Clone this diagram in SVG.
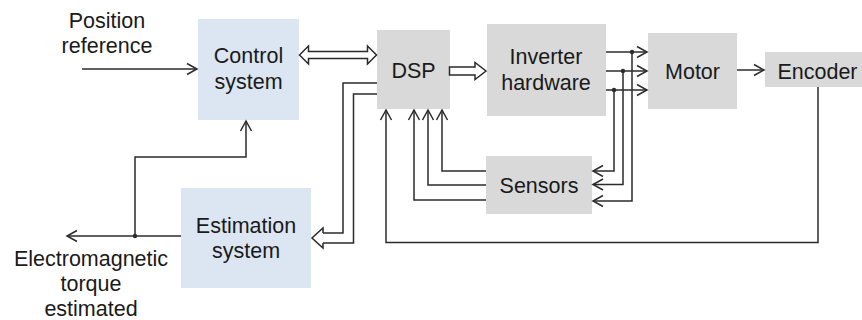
<svg xmlns="http://www.w3.org/2000/svg" width="862" height="320" viewBox="0 0 862 320">
<defs>
<style>
.blue{fill:#dce6f2}
.gray{fill:#d9d9d9}
.t{font-family:"Liberation Sans",Arial,sans-serif;font-size:21.5px;fill:#1a1a1a;text-anchor:middle}
.c{fill:none;stroke:#2b2b2b;stroke-width:1.5}
.h{fill:#ffffff;stroke:#2b2b2b;stroke-width:1.5;stroke-linejoin:miter}
.d{fill:#2b2b2b}
</style>
<marker id="ah" markerUnits="userSpaceOnUse" markerWidth="14" markerHeight="14" refX="11" refY="6" orient="auto" viewBox="0 0 14 12">
<path d="M1,0.5 L11,6 L1,11.5" fill="none" stroke="#2b2b2b" stroke-width="1.5"/>
</marker>
</defs>
<rect width="862" height="320" fill="#ffffff"/>
<g id="position-reference">
<text class="t" x="107" y="28">Position</text>
<text class="t" x="107" y="53">reference</text>
</g>
<g id="control-system">
<rect class="blue" x="198" y="19" width="101" height="101"/>
<text class="t" x="248.5" y="63">Control</text>
<text class="t" x="248.5" y="89">system</text>
</g>
<g id="dsp">
<rect class="gray" x="377" y="30" width="73" height="79"/>
<text class="t" x="413.5" y="78">DSP</text>
</g>
<g id="inverter-hardware">
<rect class="gray" x="487" y="24" width="119" height="92"/>
<text class="t" x="546" y="64">Inverter</text>
<text class="t" x="546" y="90">hardware</text>
</g>
<g id="motor">
<rect class="gray" x="648" y="33" width="89" height="76"/>
<text class="t" x="692.5" y="79">Motor</text>
</g>
<g id="encoder">
<rect class="gray" x="765" y="52" width="100" height="35"/>
<text class="t" x="817.5" y="79">Encoder</text>
</g>
<g id="sensors">
<rect class="gray" x="486" y="156" width="106" height="58"/>
<text class="t" x="539" y="193">Sensors</text>
</g>
<g id="estimation-system">
<rect class="blue" x="181" y="188" width="130" height="100"/>
<text class="t" x="246" y="233">Estimation</text>
<text class="t" x="246" y="258">system</text>
</g>
<g id="torque-label">
<text class="t" x="91" y="266">Electromagnetic</text>
<text class="t" x="91" y="291">torque</text>
<text class="t" x="91" y="316">estimated</text>
</g>
<g id="connectors">
<path class="c" d="M82,69 H197" marker-end="url(#ah)"/>
<polygon class="h" points="299.5,55 308.5,46 308.5,51.5 367.5,51.5 367.5,46 376.5,55 367.5,64 367.5,58.5 308.5,58.5 308.5,64"/>
<polygon class="h" points="449.5,67 475,67 475,62.5 486,71 475,79.5 475,75 449.5,75"/>
<path class="c" d="M606,52 H647" marker-end="url(#ah)"/>
<path class="c" d="M606,71 H647" marker-end="url(#ah)"/>
<path class="c" d="M606,90 H647" marker-end="url(#ah)"/>
<circle class="d" cx="632" cy="52" r="2.2"/>
<circle class="d" cx="623" cy="71" r="2.2"/>
<circle class="d" cx="614" cy="90" r="2.2"/>
<path class="c" d="M632,52 V201 H593" marker-end="url(#ah)"/>
<path class="c" d="M623,71 V184.5 H593" marker-end="url(#ah)"/>
<path class="c" d="M614,90 V171 H593" marker-end="url(#ah)"/>
<path class="c" d="M737,70 H764" marker-end="url(#ah)"/>
<path class="c" d="M818,87 V242.5 H386 V110" marker-end="url(#ah)"/>
<path class="c" d="M486,171 H442 V110" marker-end="url(#ah)"/>
<path class="c" d="M486,185 H428 V110" marker-end="url(#ah)"/>
<path class="c" d="M486,200 H414 V110" marker-end="url(#ah)"/>
<path class="c" d="M377,83 H343 V233 H323"/>
<path class="c" d="M377,94 H353.5 V243 H323"/>
<path class="h" d="M323,233 V228 L312,238 L323,248 V243"/>
<path class="c" d="M181,236 H67" marker-end="url(#ah)"/>
<circle class="d" cx="135" cy="236" r="2.2"/>
<path class="c" d="M135,236 V157 H246 V121" marker-end="url(#ah)"/>
</g>
</svg>
